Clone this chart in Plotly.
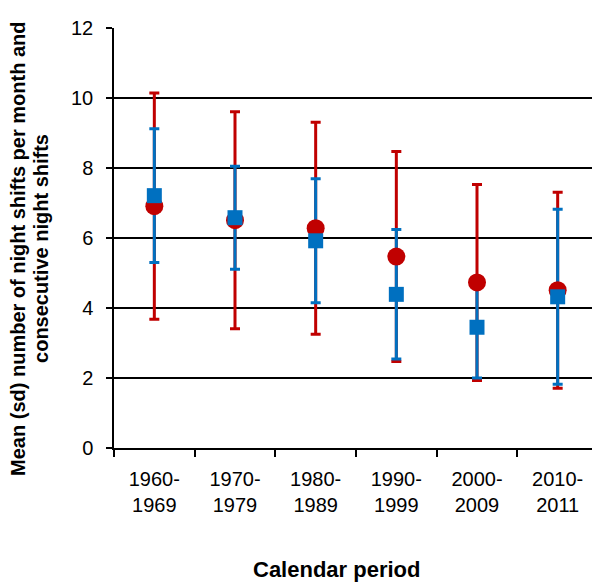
import plotly.graph_objects as go

periods = ["1960-<br>1969", "1970-<br>1979", "1980-<br>1989", "1990-<br>1999", "2000-<br>2009", "2010-<br>2011"]
# red circles: mean (sd) number of night shifts per month
night_mean = [6.91, 6.51, 6.28, 5.47, 4.73, 4.51]
night_sd = [3.23, 3.10, 3.03, 3.00, 2.80, 2.80]
# blue squares: mean (sd) consecutive night shifts
consec_mean = [7.21, 6.58, 5.92, 4.39, 3.45, 4.32]
consec_sd = [1.91, 1.47, 1.77, 1.85, 1.45, 2.50]

y_title_lines = ["Mean (sd) number of night shifts per month and", "consecutive night shifts"]
x_title = "Calendar period"

RED = "#C00000"
BLUE = "#0070C0"
FONT = "Arial, Liberation Sans, sans-serif"

fig = go.Figure()

def err(sd, color):
    return dict(type="data", array=sd, visible=True, color=color, thickness=3, width=5)

# error bars first (red then blue), markers on top
fig.add_trace(go.Scatter(x=periods, y=night_mean, mode="markers",
                         marker=dict(size=1, opacity=0, color=RED),
                         error_y=err(night_sd, RED), showlegend=False, hoverinfo="skip"))
fig.add_trace(go.Scatter(x=periods, y=consec_mean, mode="markers",
                         marker=dict(size=1, opacity=0, color=BLUE),
                         error_y=err(consec_sd, BLUE), showlegend=False, hoverinfo="skip"))
fig.add_trace(go.Scatter(x=periods, y=night_mean, mode="markers",
                         marker=dict(symbol="circle", size=18, color=RED),
                         name="Night shifts per month", showlegend=False))
fig.add_trace(go.Scatter(x=periods, y=consec_mean, mode="markers",
                         marker=dict(symbol="square", size=15, color=BLUE),
                         name="Consecutive night shifts", showlegend=False))

# page body has an 8px margin, so the figure is 8px smaller on each side
fig.update_layout(
    width=592, height=576,
    margin=dict(l=106, r=2, t=20, b=136),
    paper_bgcolor="white", plot_bgcolor="white",
    font=dict(family=FONT, color="black"),
    showlegend=False,
)
fig.update_yaxes(
    range=[0, 12], tickvals=[0, 2, 4, 6, 8, 10, 12],
    showgrid=True, gridcolor="black", gridwidth=1.5,
    showline=True, linecolor="black", linewidth=1.5,
    ticks="outside", ticklen=6, tickcolor="black", tickwidth=1.5,
    tickfont=dict(size=20, family=FONT, color="black"),
    ticklabelstandoff=9,
    zeroline=False,
)
fig.update_xaxes(
    type="category", range=[-0.5, 5.5],
    showgrid=False, showline=True, linecolor="black", linewidth=1.5,
    ticks="outside", tickson="boundaries", ticklen=7, tickcolor="black", tickwidth=1.5,
    tickfont=dict(size=20, family=FONT, color="black"),
    ticklabelstandoff=12,
    zeroline=False,
)

for txt, xc in zip(y_title_lines, [-0.1983, -0.1508]):
    fig.add_annotation(
        text=f"<b>{txt}</b>",
        xref="paper", yref="paper", x=xc, y=0.474, xanchor="center", yanchor="middle",
        textangle=-90, showarrow=False, font=dict(size=20, family=FONT, color="black"),
    )
fig.add_annotation(
    text=f"<b>{x_title}</b>",
    xref="paper", yref="paper", x=0.46, y=-0.289, xanchor="center", yanchor="middle",
    showarrow=False, font=dict(size=22, family=FONT, color="black"),
)

fig.write_html("out.html")
